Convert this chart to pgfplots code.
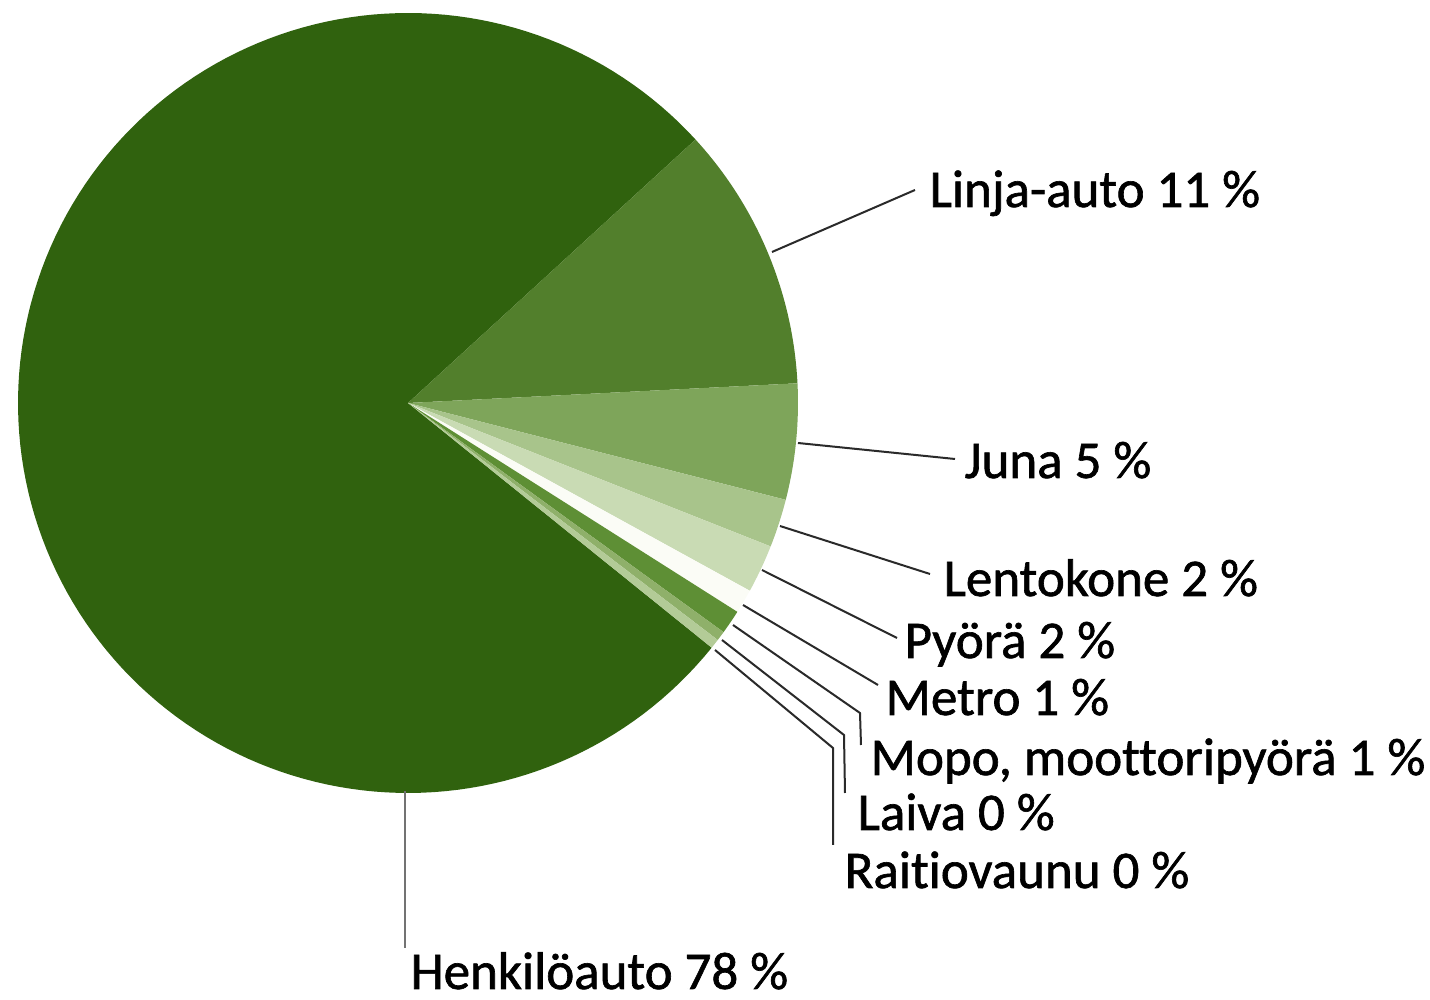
\documentclass[border=0pt]{standalone}
\usepackage{pgfplots}
\pgfplotsset{compat=1.18}
\usepackage{fontspec}
\setmainfont[Ligatures=NoCommon, FakeBold=1.2]{Carlito}
\definecolor{cHenk}{HTML}{30620E}
\definecolor{cLinja}{HTML}{527F2C}
\definecolor{cJuna}{HTML}{7EA55A}
\definecolor{cLento}{HTML}{A8C48B}
\definecolor{cPyora}{HTML}{C9DBB4}
\definecolor{cMetro}{HTML}{FBFCF6}
\definecolor{cMopo}{HTML}{5E8F35}
\definecolor{cLaiva}{HTML}{8FB06A}
\definecolor{cRaitio}{HTML}{B3CB97}
\definecolor{cLine}{HTML}{2A2A2A}
% shares (percent)
\def\pLinja{11.0}\def\pJuna{4.8}\def\pLento{2.0}\def\pPyora{2.0}
\def\pMetro{1.0}\def\pMopo{1.0}\def\pLaiva{0.4}\def\pRaitio{0.4}\def\pHenk{77.4}
\pgfmathsetmacro\aA{42.5}
\pgfmathsetmacro\aB{\aA-3.6*\pLinja}
\pgfmathsetmacro\aC{\aB-3.6*\pJuna}
\pgfmathsetmacro\aD{\aC-3.6*\pLento}
\pgfmathsetmacro\aE{\aD-3.6*\pPyora}
\pgfmathsetmacro\aF{\aE-3.6*\pMetro}
\pgfmathsetmacro\aG{\aF-3.6*\pMopo}
\pgfmathsetmacro\aH{\aG-3.6*\pLaiva}
\pgfmathsetmacro\aI{\aH-3.6*\pRaitio}
\pgfmathsetmacro\aJ{\aI-3.6*\pHenk}
\def\cx{408}\def\cy{597}\def\R{390}
\begin{document}
\begin{tikzpicture}
\begin{axis}[
  width=429pt, height=300pt, scale only axis,
  xmin=0, xmax=1430, ymin=0, ymax=1000,
  hide axis, clip=false,
]
\addplot[fill=cHenk, draw=none, domain=\aJ:\aI, samples=160] ({\cx+\R*cos(x)},{\cy+\R*sin(x)}) -- (axis cs:\cx,\cy) -- cycle;
\addplot[fill=cLinja, draw=none, domain=\aB:\aA, samples=40] ({\cx+\R*cos(x)},{\cy+\R*sin(x)}) -- (axis cs:\cx,\cy) -- cycle;
\addplot[fill=cJuna, draw=none, domain=\aC:\aB, samples=20] ({\cx+\R*cos(x)},{\cy+\R*sin(x)}) -- (axis cs:\cx,\cy) -- cycle;
\addplot[fill=cLento, draw=none, domain=\aD:\aC, samples=10] ({\cx+\R*cos(x)},{\cy+\R*sin(x)}) -- (axis cs:\cx,\cy) -- cycle;
\addplot[fill=cPyora, draw=none, domain=\aE:\aD, samples=10] ({\cx+\R*cos(x)},{\cy+\R*sin(x)}) -- (axis cs:\cx,\cy) -- cycle;
\addplot[fill=cMetro, draw=none, domain=\aF:\aE, samples=6] ({\cx+\R*cos(x)},{\cy+\R*sin(x)}) -- (axis cs:\cx,\cy) -- cycle;
\addplot[fill=cMopo, draw=none, domain=\aG:\aF, samples=6] ({\cx+\R*cos(x)},{\cy+\R*sin(x)}) -- (axis cs:\cx,\cy) -- cycle;
\addplot[fill=cLaiva, draw=none, domain=\aH:\aG, samples=4] ({\cx+\R*cos(x)},{\cy+\R*sin(x)}) -- (axis cs:\cx,\cy) -- cycle;
\addplot[fill=cRaitio, draw=none, domain=\aI:\aH, samples=4] ({\cx+\R*cos(x)},{\cy+\R*sin(x)}) -- (axis cs:\cx,\cy) -- cycle;
% leader lines
\addplot[cLine, line width=0.6pt] coordinates {(772,748) (915,810)};
\addplot[cLine, line width=0.6pt] coordinates {(798,557) (955,541)};
\addplot[cLine, line width=0.6pt] coordinates {(780,474) (930,426)};
\addplot[cLine, line width=0.6pt] coordinates {(762,430) (897,362)};
\addplot[cLine, line width=0.6pt] coordinates {(743,395) (878,315)};
\addplot[cLine, line width=0.6pt] coordinates {(733,375) (860,287) (861,255)};
\addplot[cLine, line width=0.6pt] coordinates {(722,360) (844,265) (845,207)};
\addplot[cLine, line width=0.6pt] coordinates {(715,350) (833,252) (833,155)};
\addplot[black!55, line width=0.6pt] coordinates {(405,209) (405,52)};
% labels
\begin{scope}[every node/.style={anchor=base west, inner sep=0pt, font=\fontsize{15.9}{19}\selectfont}]
\node at (axis cs:929,793) {Linja-auto 11 \%};
\node at (axis cs:964,522) {Juna 5 \%};
\node at (axis cs:943,404) {Lentokone 2 \%};
\node at (axis cs:904,342) {Pyörä 2 \%};
\node at (axis cs:885,285) {Metro 1 \%};
\node at (axis cs:870,225) {Mopo, moottoripyörä 1 \%};
\node at (axis cs:857,170) {Laiva 0 \%};
\node at (axis cs:844,112) {Raitiovaunu 0 \%};
\node at (axis cs:410,11) {Henkilöauto 78 \%};
\end{scope}
\end{axis}
\pgfresetboundingbox
\path (0,0) rectangle (429pt,300pt);
\end{tikzpicture}
\end{document}
